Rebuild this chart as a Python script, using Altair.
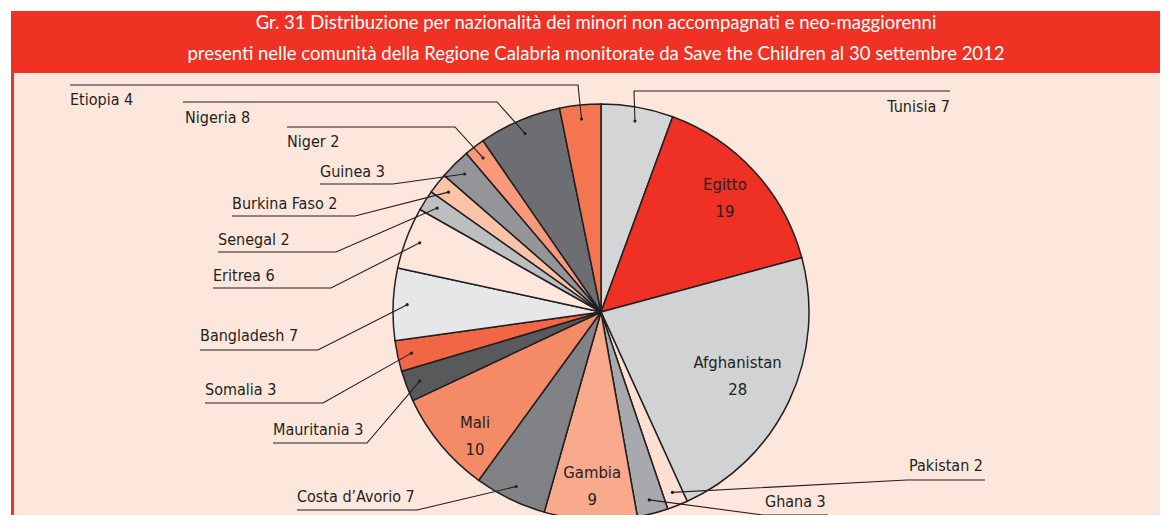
import altair as alt
import numpy as np
import pandas as pd

# ---------------- data ----------------
countries = ["Tunisia", "Egitto", "Afghanistan", "Pakistan", "Ghana", "Gambia",
             "Costa d\u2019Avorio", "Mali", "Mauritania", "Somalia", "Bangladesh",
             "Eritrea", "Senegal", "Burkina Faso", "Guinea", "Niger", "Nigeria", "Etiopia"]
counts = [7, 19, 28, 2, 3, 9, 7, 10, 3, 3, 7, 6, 2, 2, 3, 2, 8, 4]
slice_colors = ["#d4d5d7", "#ee3124", "#d1d2d4", "#fde0d3", "#a7a9ac", "#f9aa8c",
                "#808285", "#f58a67", "#58595b", "#f26645", "#e6e7e8",
                "#fde7dd", "#bcbec0", "#fbc3a8", "#939598", "#f7997a", "#6d6e71", "#f37650"]
title_lines = ["Gr. 31 Distribuzione per nazionalit\u00e0 dei minori non accompagnati e neo-maggiorenni",
               "presenti nelle comunit\u00e0 della Regione Calabria monitorate da Save the Children al 30 settembre 2012"]
inner_labels = ["Egitto", "Afghanistan", "Mali", "Gambia"]

# ---------------- layout (page pixel coordinates) ----------------
OFF = 8
W, H = 1152, 507
CX, CY, R = 601, 312, 208
DOT_R = 194
# country: (text_x, text_y, align, line_y, line_start_x, elbow_x)
outer_layout = {
    "Tunisia": (950, 107, "right", 91, 950, 634),
    "Etiopia": (70, 100, "left", 85, 70, 578),
    "Nigeria": (185, 118, "left", 102, 183, 497),
    "Niger": (287, 142, "left", 127, 287, 455),
    "Guinea": (320, 172, "left", 184, 320, 393),
    "Burkina Faso": (232, 204, "left", 216, 232, 355),
    "Senegal": (218, 240, "left", 252, 218, 336),
    "Eritrea": (213, 276, "left", 288, 213, 331),
    "Bangladesh": (200, 336, "left", 350, 200, 318),
    "Somalia": (205, 390, "left", 403, 205, 323),
    "Mauritania": (273, 430, "left", 443, 273, 367),
    "Costa d\u2019Avorio": (297, 497, "left", 510, 297, 417),
    "Ghana": (765, 502, "left", 515, 828, 763),
    "Pakistan": (983, 466, "right", 480, 985, 907),
}
# inner label: (radius, angle nudge in degrees)
inner_layout = {"Egitto": (168, 0), "Afghanistan": (151, 0), "Mali": (177, -5), "Gambia": (175, 0)}
LINE_H = 27

INK = "#231f20"
LABEL_FONT = "Liberation Sans Narrow, DejaVu Sans Condensed, Roboto"
TITLE_FONT = "Lato"

# ---------------- derived tables ----------------
vals = np.array(counts, dtype=float)
total = vals.sum()
mid = (np.cumsum(vals) - vals / 2) / total * 2 * np.pi

pie_df = pd.DataFrame({"country": countries, "count": counts, "idx": range(len(countries))})

line_rows, dot_rows, txt_rows = [], [], []
for i, c in enumerate(countries):
    a = mid[i]
    if c in outer_layout:
        tx, ty, al, ly, lx0, ex = outer_layout[c]
        dx, dy = CX + DOT_R * np.sin(a), CY - DOT_R * np.cos(a)
        for s, (px, py) in enumerate([(lx0, ly), (ex, ly), (dx, dy)]):
            line_rows.append({"country": c, "seq": s, "x": px, "y": py})
        dot_rows.append({"country": c, "x": dx, "y": dy})
        txt_rows.append({"label": f"{c} {counts[i]}", "x": tx, "y": ty, "align": al})
lines_df = pd.DataFrame(line_rows)
dots_df = pd.DataFrame(dot_rows)
txt_df = pd.DataFrame(txt_rows)

inner_rows = []
for c in inner_labels:
    i = countries.index(c)
    r, nudge = inner_layout[c]
    a = mid[i] + np.radians(nudge)
    # first line sits half a line above the block centre
    inner_rows.append({"label": f"{c}\n{counts[i]}",
                       "x": CX + r * np.sin(a), "y": CY - r * np.cos(a) - LINE_H / 2})
inner_df = pd.DataFrame(inner_rows)

xs = alt.Scale(domain=[OFF, OFF + W], nice=False, zero=False)
ys = alt.Scale(domain=[OFF + H, OFF], nice=False, zero=False)

def X(f):
    return alt.X(f, type="quantitative", scale=xs, axis=None)

def Y(f):
    return alt.Y(f, type="quantitative", scale=ys, axis=None)

one = pd.DataFrame({"a": [0]})

def rect(x0, x1, y0, y1, color):
    return alt.Chart(one).mark_rect(color=color, strokeWidth=0).encode(
        x=alt.value(x0 - OFF), x2=alt.value(x1 - OFF),
        y=alt.value(y0 - OFF), y2=alt.value(y1 - OFF))

bg_layers = [
    rect(11, OFF + W, 11, 73, "#ef3224"),
    rect(11, 14, 73, OFF + H, "#ef3224"),
    rect(14, OFF + W, 73, OFF + H, "#fde7dd"),
]

title_layers = [
    alt.Chart(one).mark_text(text=t, font=TITLE_FONT, fontSize=18.5, color="white",
                             align="center", baseline="middle").encode(
        x=alt.value(596 - OFF), y=alt.value(yy - OFF))
    for t, yy in zip(title_lines, [23, 54])
]

pie = alt.Chart(pie_df).mark_arc(outerRadius=R, stroke=INK, strokeWidth=1.5).encode(
    theta=alt.Theta("count:Q", stack=True),
    order=alt.Order("idx:Q"),
    color=alt.Color("country:N", scale=alt.Scale(domain=countries, range=slice_colors), legend=None),
    x=alt.value(CX - OFF), y=alt.value(CY - OFF),
)

leaders = alt.Chart(lines_df).mark_line(color=INK, strokeWidth=1.1).encode(
    x=X("x"), y=Y("y"), detail="country:N", order="seq:Q")

dots = alt.Chart(dots_df).mark_circle(size=10, color=INK, opacity=1).encode(x=X("x"), y=Y("y"))

txt_left = alt.Chart(txt_df[txt_df["align"] == "left"]).mark_text(
    align="left", baseline="middle", font=LABEL_FONT, fontSize=16, color=INK).encode(
    x=X("x"), y=Y("y"), text="label:N")
txt_right = alt.Chart(txt_df[txt_df["align"] == "right"]).mark_text(
    align="right", baseline="middle", font=LABEL_FONT, fontSize=16, color=INK).encode(
    x=X("x"), y=Y("y"), text="label:N")

inner = alt.Chart(inner_df).mark_text(
    align="center", baseline="middle", font=LABEL_FONT, fontSize=16.5, color=INK,
    lineBreak="\n", lineHeight=LINE_H).encode(x=X("x"), y=Y("y"), text="label:N")

chart = alt.layer(*bg_layers, *title_layers, pie, leaders, dots, txt_left, txt_right, inner).properties(
    width=W, height=H, background="white", padding=0,
    autosize=alt.AutoSizeParams(type="none"),
).configure_view(stroke=None)

chart.save("out.html", embed_options={"renderer": "svg", "actions": False})
